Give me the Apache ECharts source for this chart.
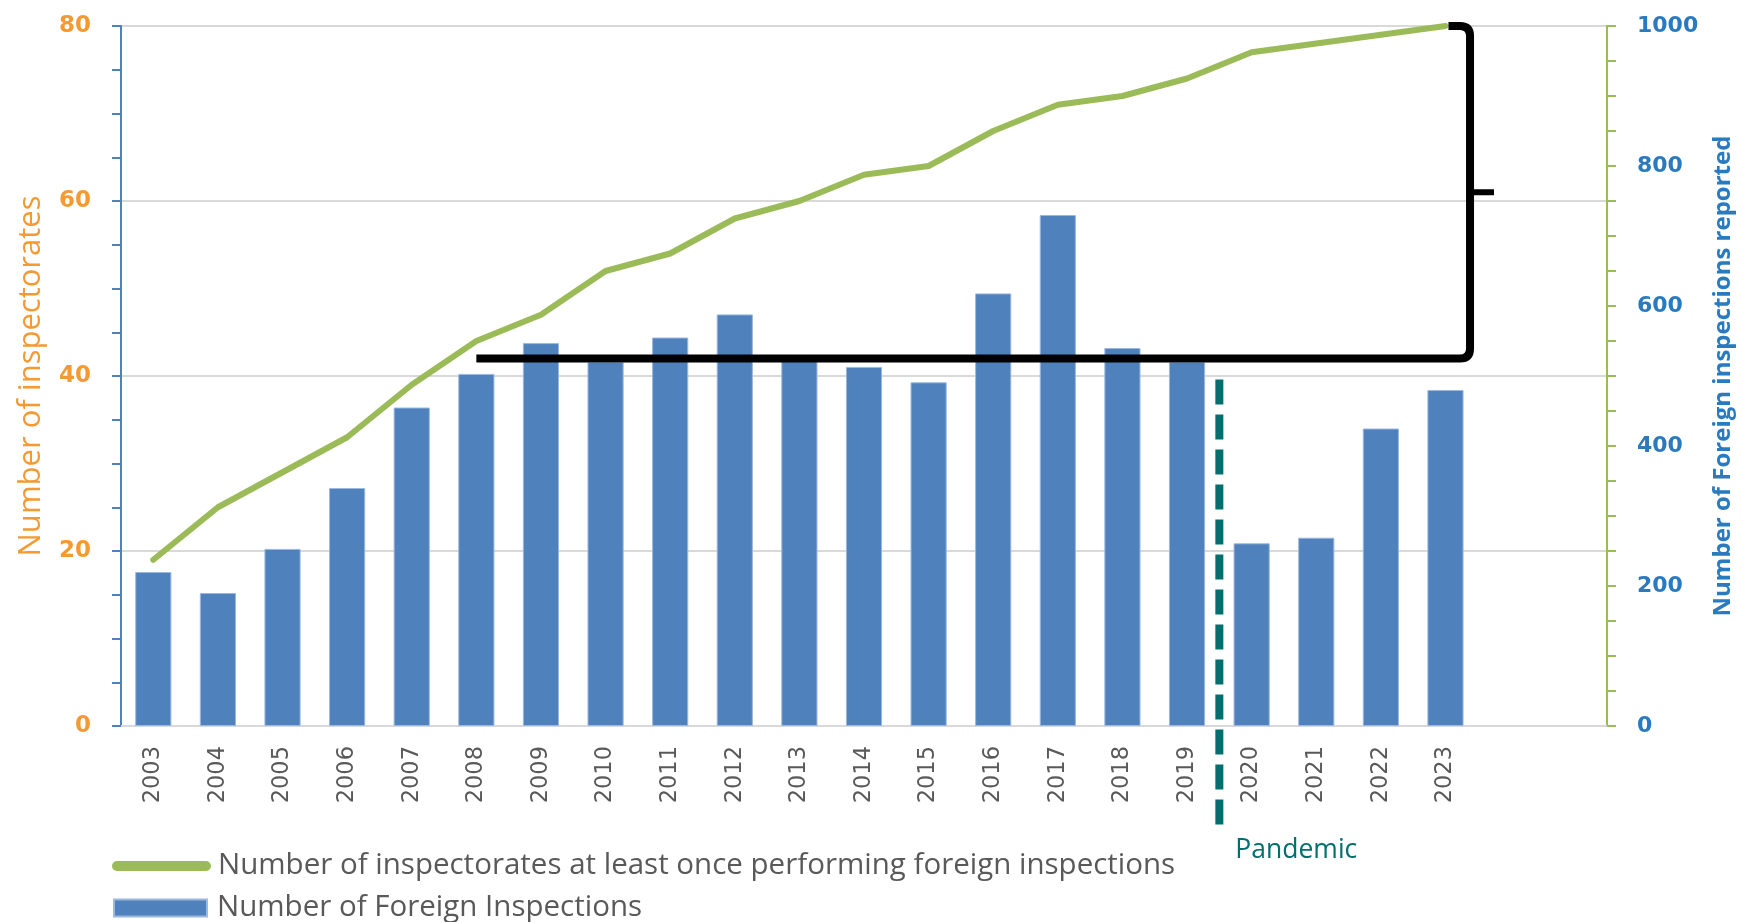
<!DOCTYPE html>
<html>
<head>
<meta charset="utf-8">
<title>Foreign inspections 2003–2023</title>
<script src="https://cdn.jsdelivr.net/npm/echarts@6/dist/echarts.min.js"></script>
<style>
  html, body { margin: 0; padding: 0; background: #ffffff; }
  #chart { width: 1743px; height: 922px; }
</style>
</head>
<body>
<div id="chart"></div>
<script>
// Years shown on the category axis; two empty slots keep room after 2023.
const years = ['2003', '2004', '2005', '2006', '2007', '2008', '2009', '2010', '2011', '2012',
  '2013', '2014', '2015', '2016', '2017', '2018', '2019', '2020', '2021', '2022', '2023'];
const categories = years.concat(['', '']);

// Inspectorates that performed a foreign inspection at least once (cumulative, left axis)
const inspectorates = [19, 25, 29, 33, 39, 44, 47, 52, 54, 58, 60, 63, 64, 68, 71, 72, 74, 77, 78, 79, 80];

// Foreign inspections reported per year (right axis)
const inspections = [220, 190, 253, 340, 455, 503, 547, 520, 555, 588, 522, 513, 491, 618, 730, 540, 520, 261, 269, 425, 480];

// Axis ranges and steps
const leftAxisMax = 80, leftAxisStep = 20;
const rightAxisMax = 1000, rightAxisStep = 200;

// Bracket: from the 2008 inspection level up to the 2023 inspectorate level
const bracketSpan = [['2008', '2023', 525, 1000]];
// Pandemic marker: between 2019 and 2020
const pandemicMarker = [['2020', 495]];

const lineName = 'Number of inspectorates at least once performing foreign inspections';
const barName = 'Number of Foreign Inspections';

const orange = '#f59a32';
const blue = '#4f81bd';
const green = '#9bbb59';
const teal = '#006f6e';
const grey = '#595959';
const labelBlue = '#2a7ac0';

const chart = echarts.init(document.getElementById('chart'), null, { renderer: 'canvas' });

const option = {
  animation: false,
  backgroundColor: '#ffffff',
  grid: { left: 121, right: 132, top: 26, bottom: 196, containLabel: false },
  legend: [
    {
      data: [lineName],
      left: 112, top: 851,
      padding: 0,
      itemWidth: 99, itemHeight: 11,
      icon: 'path://M5,0 H96 A5,5 0 0 1 96,10 H5 A5,5 0 0 1 5,0 Z',
      textStyle: { color: grey, fontSize: 29.5, fontFamily: 'Open Sans', lineHeight: 30, padding: [0, 0, 0, 2] },
      selectedMode: false
    },
    {
      data: [barName],
      left: 113, top: 893,
      padding: 0,
      itemWidth: 93, itemHeight: 17,
      icon: 'rect',
      textStyle: { color: grey, fontSize: 29.5, fontFamily: 'Open Sans', lineHeight: 30, padding: [0, 0, 0, 5] },
      selectedMode: false
    }
  ],
  xAxis: {
    type: 'category',
    data: categories,
    boundaryGap: true,
    axisLine: { show: true, lineStyle: { color: '#d9d9d9', width: 2 } },
    axisTick: { show: false },
    axisLabel: {
      interval: 0, rotate: 90, margin: 20,
      color: grey, fontSize: 22.5, fontFamily: 'DejaVu Sans'
    },
    splitLine: { show: false }
  },
  yAxis: [
    {
      type: 'value',
      min: 0, max: leftAxisMax, interval: leftAxisStep,
      position: 'left',
      name: 'Number of inspectorates',
      nameLocation: 'middle',
      nameRotate: 90,
      nameGap: 74,
      nameTextStyle: { color: orange, fontSize: 31, fontFamily: 'Open Sans' },
      axisLine: { show: true, lineStyle: { color: blue, width: 2 } },
      axisTick: { show: true, length: 9, lineStyle: { color: blue, width: 2 } },
      minorTick: { show: true, splitNumber: 4, length: 9, lineStyle: { color: blue, width: 2 } },
      axisLabel: { margin: 30, color: orange, fontSize: 23, fontWeight: 'bold', fontFamily: 'DejaVu Sans' },
      splitLine: { show: true, lineStyle: { color: '#d9d9d9', width: 2 } }
    },
    {
      type: 'value',
      min: 0, max: rightAxisMax, interval: rightAxisStep,
      position: 'right',
      name: 'Number of Foreign inspections reported',
      nameLocation: 'middle',
      nameRotate: 90,
      nameGap: 104,
      nameTextStyle: { color: labelBlue, fontSize: 24, fontWeight: 'bold', fontFamily: 'Open Sans' },
      axisLine: { show: true, lineStyle: { color: green, width: 2 } },
      axisTick: { show: true, length: 9, lineStyle: { color: green, width: 2 } },
      minorTick: { show: true, splitNumber: 4, length: 9, lineStyle: { color: green, width: 2 } },
      axisLabel: {
        margin: 30, color: labelBlue, fontSize: 22, fontWeight: 'bold', fontFamily: 'DejaVu Sans',
        formatter: v => String(v)
      },
      splitLine: { show: false }
    }
  ],
  series: [
    {
      name: barName,
      type: 'bar',
      yAxisIndex: 1,
      data: inspections,
      barWidth: '56%',
      itemStyle: { color: blue, borderColor: '#9db8de', borderWidth: 1 },
      z: 2
    },
    {
      name: lineName,
      type: 'line',
      yAxisIndex: 0,
      data: inspectorates,
      symbol: 'none',
      lineStyle: { color: green, width: 6, cap: 'round', join: 'round' },
      itemStyle: { color: green },
      z: 3
    },
    {
      // bracket linking the inspection level to the top of the inspectorate line
      type: 'custom',
      yAxisIndex: 1,
      silent: true,
      z: 5,
      data: bracketSpan.map(d => [categories.indexOf(d[0]), categories.indexOf(d[1]), d[2], d[3]]),
      encode: { x: [0, 1], y: [2, 3] },
      renderItem: function (params, api) {
        const band = api.size([1, 0])[0];
        const low = api.coord([api.value(0), api.value(2)]);
        const high = api.coord([api.value(1), api.value(3)]);
        const xR = high[0] + band * 0.38;
        const r = 10;
        const yMid = (low[1] + high[1]) / 2;
        const d = [
          'M', low[0], low[1],
          'L', xR - r, low[1],
          'Q', xR, low[1], xR, low[1] - r,
          'L', xR, high[1] + r,
          'Q', xR, high[1], xR - r, high[1],
          'L', high[0] + 3, high[1]
        ].join(' ');
        return {
          type: 'group',
          children: [
            {
              type: 'path',
              shape: { pathData: d },
              style: { stroke: '#000000', lineWidth: 8, fill: null, lineJoin: 'round' }
            },
            {
              type: 'line',
              shape: { x1: xR, y1: yMid, x2: xR + 24, y2: yMid },
              style: { stroke: '#000000', lineWidth: 6 }
            }
          ]
        };
      }
    },
    {
      // dashed divider marking the start of the pandemic years
      type: 'custom',
      yAxisIndex: 1,
      silent: true,
      clip: false,
      z: 6,
      data: pandemicMarker.map(d => [categories.indexOf(d[0]), d[1]]),
      encode: { x: 0, y: 1 },
      renderItem: function (params, api) {
        const band = api.size([1, 0])[0];
        const top = api.coord([api.value(0), api.value(1)]);
        const base = api.coord([api.value(0), 0]);
        const x = top[0] - band / 2;
        return {
          type: 'group',
          children: [
            {
              type: 'line',
              shape: { x1: x, y1: top[1], x2: x, y2: base[1] + 100 },
              style: { stroke: teal, lineWidth: 8, lineDash: [25, 10] }
            },
            {
              type: 'text',
              x: x + 16,
              y: base[1] + 124,
              style: {
                text: 'Pandemic',
                fill: teal,
                font: '26.5px "Open Sans"',
                textAlign: 'left',
                textVerticalAlign: 'middle'
              }
            }
          ]
        };
      }
    }
  ]
};

chart.setOption(option);
</script>
</body>
</html>
